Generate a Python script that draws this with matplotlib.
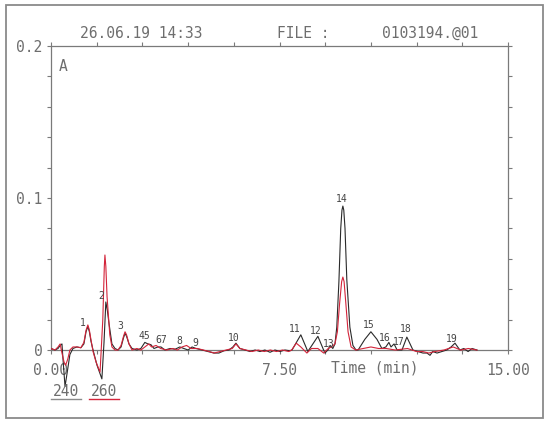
import matplotlib
matplotlib.use("Agg")
import matplotlib.pyplot as plt
from matplotlib.patches import Rectangle
from matplotlib.lines import Line2D

# ---- data (time in min, absorbance in AU) ----
t_240 = [0.00, 0.13, 0.23, 0.30, 0.36, 0.39, 0.46, 0.53, 0.62, 0.72, 0.85, 0.98,
         1.08, 1.15, 1.21, 1.26, 1.31, 1.38, 1.51, 1.67, 1.74, 1.80, 1.85, 1.90, 2.00, 2.10, 2.20,
         2.30, 2.38, 2.43, 2.48, 2.56, 2.66, 2.82, 2.95, 3.08, 3.18, 3.28, 3.38, 3.51, 3.61,
         3.74, 3.91, 4.07, 4.23, 4.36, 4.50, 4.63, 4.76, 4.96, 5.15, 5.35, 5.51,
         5.68, 5.84, 5.97, 6.07, 6.20, 6.37, 6.53, 6.70, 6.86, 7.02, 7.19, 7.35,
         7.52, 7.68, 7.84, 7.91, 8.20, 8.43, 8.76, 8.99, 9.09, 9.16, 9.25, 9.32,
         9.38, 9.45, 9.51, 9.55, 9.58, 9.61, 9.65, 9.71, 9.81, 9.91, 10.01, 10.08, 10.30, 10.50,
         10.70, 10.86, 10.99, 11.09, 11.16, 11.26, 11.36, 11.52, 11.68, 11.88, 12.04,
         12.21, 12.34, 12.44, 12.53, 12.67, 12.83, 12.99, 13.13, 13.26, 13.42, 13.55,
         13.69, 13.82, 13.98]
a_240 = [0.001, 0.000, 0.001, 0.003, 0.004, -0.005, -0.024, -0.015, -0.003, 0.001, 0.002, 0.0015,
         0.004, 0.012, 0.0155, 0.012, 0.006, 0.000, -0.010, -0.019, 0.005, 0.0316, 0.026, 0.018, 0.004, 0.001, 0.000,
         0.002, 0.008, 0.011, 0.009, 0.004, 0.001, 0.000, 0.001, 0.005, 0.004, 0.0035, 0.001, 0.002, 0.002,
         0.000, 0.001, 0.0005, 0.002, 0.001, 0.000, 0.002, 0.001, 0.000, -0.001, -0.002, -0.002,
         -0.0005, 0.000, 0.002, 0.0045, 0.001, 0.000, -0.001, 0.000, -0.001, 0.000, -0.0015, 0.000,
         -0.001, 0.000, -0.0005, 0.000, 0.010, -0.001, 0.009, -0.002, 0.000, 0.003, 0.001, 0.004,
         0.015, 0.045, 0.080, 0.092, 0.0947, 0.092, 0.080, 0.046, 0.015, 0.003, 0.000, 0.000, 0.007, 0.012,
         0.007, 0.001, 0.002, 0.005, 0.002, 0.004, 0.000, 0.000, 0.0085, 0.000, -0.001,
         -0.002, -0.002, -0.0035, -0.001, -0.002, -0.001, 0.000, 0.002, 0.0045, 0.000, 0.001,
         -0.001, 0.001, 0.000]

t_260 = [0.00, 0.13, 0.23, 0.30, 0.36, 0.43, 0.48, 0.55, 0.62, 0.72, 0.85, 0.98,
         1.08, 1.15, 1.21, 1.26, 1.31, 1.38, 1.48, 1.61, 1.70, 1.75, 1.77, 1.80, 1.84, 1.93, 2.00, 2.10,
         2.20, 2.30, 2.38, 2.43, 2.48, 2.56, 2.66, 2.82, 2.95, 3.08, 3.21, 3.30, 3.45, 3.60,
         3.80, 4.00, 4.15, 4.30, 4.45, 4.60, 4.80, 5.00, 5.20, 5.35, 5.55, 5.75,
         5.95, 6.07, 6.20, 6.40, 6.60, 6.80, 7.00, 7.20, 7.40, 7.60, 7.80, 7.90,
         8.05, 8.20, 8.40, 8.55, 8.76, 8.95, 9.10, 9.20, 9.32, 9.40, 9.47, 9.54, 9.58, 9.62,
         9.68, 9.75, 9.85, 10.00, 10.25, 10.50, 10.75, 11.00, 11.30, 11.70, 12.00,
         12.20, 12.40, 12.60, 12.90, 13.20, 13.45, 13.70, 13.98]
a_260 = [0.001, 0.000, 0.002, 0.004, -0.002, -0.008, -0.010, -0.006, 0.000, 0.002, 0.002, 0.0015,
         0.005, 0.013, 0.0165, 0.013, 0.007, -0.001, -0.008, -0.0145, 0.020, 0.055, 0.0625, 0.055, 0.035, 0.010, 0.002, 0.000,
         0.000, 0.003, 0.009, 0.012, 0.010, 0.004, 0.000, 0.001, 0.000, 0.002, 0.004, 0.002, 0.003, 0.001,
         0.000, 0.001, 0.000, 0.002, 0.003, 0.001, 0.001, 0.000, -0.001, -0.002, -0.001, 0.000,
         0.001, 0.004, 0.001, 0.000, -0.001, 0.000, -0.001, 0.000, -0.001, 0.000, -0.001, 0.000,
         0.0045, 0.002, -0.002, 0.001, 0.001, -0.002, 0.001, 0.002, 0.004, 0.012, 0.030, 0.045, 0.048, 0.045,
         0.030, 0.012, 0.002, 0.000, 0.001, 0.002, 0.001, 0.001, 0.000, 0.001, -0.001,
         -0.001, -0.002, -0.001, 0.000, 0.002, 0.000, 0.001, 0.000]

peak_names = ["1", "2", "3", "45", "67", "8", "9", "10", "11", "12", "13",
              "14", "15", "16", "17", "18", "19"]
peak_t = [1.05, 1.64, 2.26, 3.08, 3.61, 4.20, 4.73, 6.01, 8.01, 8.70, 9.12,
          9.55, 10.44, 10.96, 11.40, 11.64, 13.16]
peak_a = [0.0178, 0.0355, 0.0158, 0.0092, 0.0066, 0.0059, 0.0046, 0.0079, 0.0138,
          0.0125, 0.0039, 0.0993, 0.0164, 0.0082, 0.0050, 0.0138, 0.0072]

x_ticks = [0.0, 1.5, 3.0, 4.5, 6.0, 7.5, 9.0, 10.5, 12.0, 13.5, 15.0]
x_labels = ["0.00", "", "", "", "", "7.50", "", "", "", "", "15.00"]
y_ticks = [0.0, 0.02, 0.04, 0.06, 0.08, 0.1, 0.12, 0.14, 0.16, 0.18, 0.2]
y_labels = ["0", "", "", "", "", "0.1", "", "", "", "", "0.2"]

GRAY = "#6e6e6e"
AXC = "#7a7a7a"
RED = "#d3243a"
DARK = "#2a2a2a"
MONO = "DejaVu Sans Mono"

W, H = 550, 425
fig = plt.figure(figsize=(5.5, 4.25), dpi=100)
fig.patch.set_facecolor("white")

# outer frame
fig.add_artist(Rectangle((6 / W, 1 - 418 / H), 537 / W, 413 / H,
                         transform=fig.transFigure, fill=False,
                         edgecolor="#8a8a8a", lw=1.3))

ax = fig.add_axes([51 / W, 1 - 395 / H, 457 / W, 349 / H])
ax.set_xlim(0, 15)
ax.set_ylim(-0.0296, 0.2)
ax.set_facecolor("none")

ax.plot(t_240, a_240, color=DARK, lw=0.8, zorder=3)
ax.plot(t_260, a_260, color=RED, lw=0.8, zorder=4)

for s in ax.spines.values():
    s.set_color(AXC)
    s.set_linewidth(0.9)
ax.spines["bottom"].set_position(("data", 0))
ax.spines["left"].set_bounds(0, 0.2)
ax.spines["right"].set_bounds(0, 0.2)

ax.set_xticks(x_ticks)
ax.set_xticklabels(x_labels)
ax.set_yticks(y_ticks)
ax.set_yticklabels(y_labels)
ax.tick_params(axis="x", direction="out", length=3, color=AXC, top=True,
               labelsize=10.5, labelcolor=GRAY, pad=6)
ax.tick_params(axis="y", direction="out", length=3, color=AXC, right=True,
               labelsize=10.5, labelcolor=GRAY, pad=3)
for lab in ax.get_xticklabels() + ax.get_yticklabels():
    lab.set_family(MONO)

for name, tx, ay in zip(peak_names, peak_t, peak_a):
    ax.text(tx, ay, name, fontsize=7, family=MONO, color="#444444",
            ha="center", va="center", zorder=5)

ax.text(0.018, 0.94, "A", transform=ax.transAxes, fontsize=10.5, family=MONO,
        color=GRAY, ha="left", va="center")
ax.text(10.63, -0.0118, "Time (min)", fontsize=10.5, family=MONO, color=GRAY,
        ha="center", va="center")

# header
fig.text(141 / W, 1 - 33 / H, "26.06.19 14:33", fontsize=10.5, family=MONO,
         color=GRAY, ha="center", va="center")
fig.text(303 / W, 1 - 33 / H, "FILE :", fontsize=10.5, family=MONO,
         color=GRAY, ha="center", va="center")
fig.text(430 / W, 1 - 33 / H, "0103194.@01", fontsize=10.5, family=MONO,
         color=GRAY, ha="center", va="center")

# wavelength legend
fig.text(66 / W, 1 - 392 / H, "240", fontsize=10.5, family=MONO,
         color=GRAY, ha="center", va="center")
fig.text(104 / W, 1 - 392 / H, "260", fontsize=10.5, family=MONO,
         color=GRAY, ha="center", va="center")
fig.add_artist(Line2D([51 / W, 81 / W], [1 - 399 / H] * 2,
                      transform=fig.transFigure, color="#8a8a8a", lw=1.0))
fig.add_artist(Line2D([89 / W, 119 / W], [1 - 399 / H] * 2,
                      transform=fig.transFigure, color=RED, lw=1.0))

fig.savefig("out.png", dpi=100)
